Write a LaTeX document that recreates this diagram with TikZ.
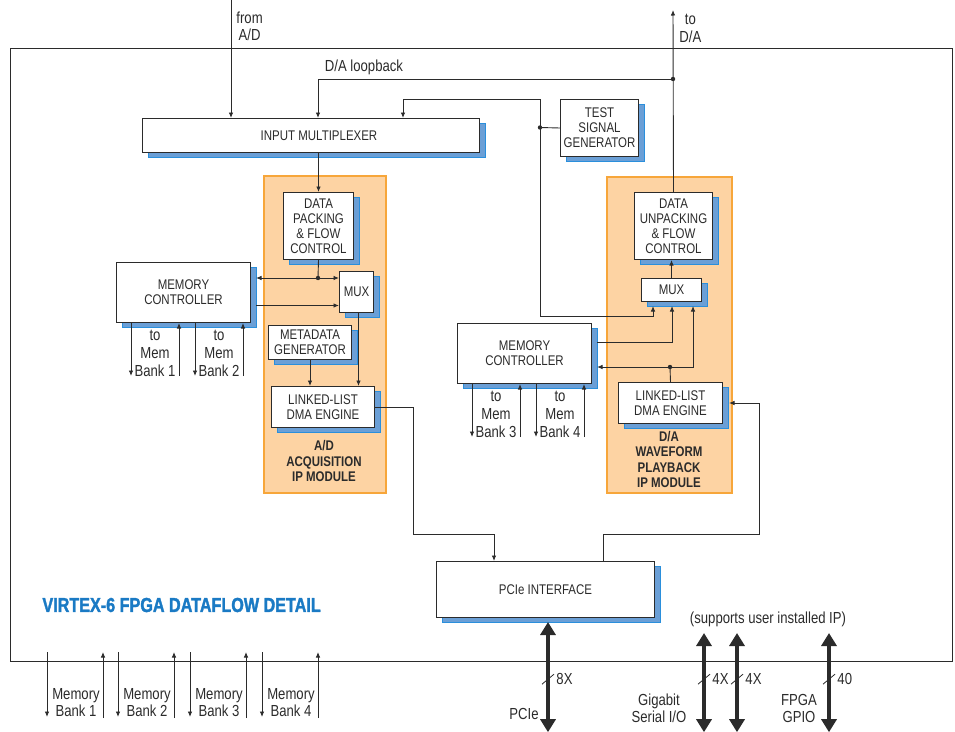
\documentclass[tikz,border=0pt]{standalone}
\usepackage{fontspec}
\setmainfont{Liberation Sans}[FakeStretch=0.82]
\newfontfamily\titlefont{Liberation Sans}[FakeStretch=0.8,FakeBold=1.6]
\usetikzlibrary{positioning,shadows,arrows.meta}
\definecolor{ink}{HTML}{2B2B2B}
\definecolor{shadowblue}{HTML}{6B9FD6}
\definecolor{shadowedge}{HTML}{2A8FDC}
\definecolor{modfill}{HTML}{FDD3A3}
\definecolor{modline}{HTML}{F7A63A}
\definecolor{titleblue}{HTML}{1A7AC4}
\tikzset{
  box/.style={draw=ink,fill=white,line width=1pt,anchor=north west,align=center,
    font=\fontsize{14}{15}\selectfont,
    general shadow={fill=shadowblue,draw=shadowedge,line width=0.6pt,shadow xshift=6pt,shadow yshift=-5pt}},
  module/.style={draw=modline,fill=modfill,line width=1.6pt,anchor=north west},
  modlabel/.style={align=center,font=\bfseries\fontsize{14}{15.3}\selectfont},
  lbl/.style={align=center,font=\fontsize{16}{17.5}\selectfont},
  bus/.style={line width=3.6pt,{Triangle[length=13pt,width=15pt]}-{Triangle[length=13pt,width=15pt]}}
}
\begin{document}
\begin{tikzpicture}[x=1pt,y=-1pt,line width=0.9pt,color=ink,every node/.style={inner sep=1pt}]
\tikzstyle{arrow}=[draw,-{Latex[length=5.5pt,width=4.5pt]}]
\useasboundingbox (0,0) rectangle (955,731);

% FPGA outline
\node[draw,line width=1.2pt,anchor=north west,minimum width=942,minimum height=613] (fpga) at (10,48) {};

% IP modules
\node[module,minimum width=122,minimum height=317] (admod) at (263,175) {};
\node[modlabel] (admodtxt) at (324,461) {A/D\\ACQUISITION\\IP MODULE};
\node[module,minimum width=125,minimum height=316] (damod) at (606,176) {};
\node[modlabel] (damodtxt) at (669,459.5) {D/A\\WAVEFORM\\PLAYBACK\\IP MODULE};

% blocks
\node[box,minimum width=337,minimum height=34] (inmux) at (142,118) {\hspace*{16pt}INPUT MULTIPLEXER};
\node[box,minimum width=78,minimum height=57] (tsg) at (560,99) {TEST\\SIGNAL\\GENERATOR};
\node[box,minimum width=70,minimum height=67] (dpack) at (283,192) {DATA\\PACKING\\\& FLOW\\CONTROL};
\node[box,minimum width=34,minimum height=41] (admux) at (339,271) {MUX};
\node[box,minimum width=134,minimum height=60] (meml) at (116,262) {MEMORY\\CONTROLLER};
\node[box,minimum width=83,minimum height=34] (meta) at (268,325) {METADATA\\GENERATOR};
\node[box,minimum width=103,minimum height=41] (adll) at (271,386) {LINKED-LIST\\DMA ENGINE};
\node[box,minimum width=78,minimum height=67] (dunpack) at (634,192) {DATA\\UNPACKING\\\& FLOW\\CONTROL};
\node[box,minimum width=60,minimum height=23] (damux) at (641,278) {MUX};
\node[box,minimum width=134,minimum height=60] (memr) at (457,323) {MEMORY\\CONTROLLER};
\node[box,minimum width=104,minimum height=41] (dall) at (618,382) {LINKED-LIST\\DMA ENGINE};
\node[box,minimum width=218,minimum height=56] (pcie) at (436,561) {PCIe INTERFACE};

% top connections
\coordinate (fromad) at (231,0);
\draw[arrow] (fromad) -- (fromad |- inmux.north);
\node[lbl,anchor=west] (fromadtxt) at (235,26.5) {from\\A/D};
\coordinate (toda) at (673,10);
\coordinate (loopdot) at (673,79);
\coordinate (loopin) at (318,118);
\draw[arrow] (dunpack.north) -- (toda);
\node[lbl,anchor=west] (todatxt) at (678,28.5) {to\\D/A};
\draw[arrow] (loopdot) -| (loopin);
\fill (loopdot) circle (2.2);
\node[lbl] (looptxt) at (364,67) {D/A loopback};

% test signal generator
\coordinate (tsgtap) at (540,127.5);
\coordinate (tsgbend) at (540,99);
\coordinate (tsgin) at (403,118);
\coordinate (tsglow) at (540,316);
\coordinate (damuxa) at (653,306);
\coordinate (damuxb) at (672,306);
\coordinate (damuxc) at (693,306);
\draw (tsg.west) -- (tsgtap);
\draw[arrow] (tsgtap) -- (tsgbend) -| (tsgin);
\draw[arrow] (tsgtap) -- (tsglow) -| (damuxa);
\fill (tsgtap) circle (2.2);

% A/D side
\coordinate (dpdot) at (318,278);
\coordinate (memlin) at (256,278);
\coordinate (memlout) at (256,305.5);
\draw[arrow] (inmux.south -| dpack.north) -- (dpack.north);
\draw (dpack.south) -- (dpdot);
\draw[arrow] (dpdot) -- (admux.west |- dpdot);
\draw[arrow] (dpdot) -- (memlin);
\fill (dpdot) circle (2.2);
\draw[arrow] (memlout) -- (admux.west |- memlout);
\draw[arrow] ([xshift=2]admux.south) -- ([xshift=2]admux.south |- adll.north);
\draw[arrow] (meta.south) -- (meta.south |- adll.north);
\coordinate (adbend) at (413,534);
\coordinate (pciein) at (494,561);
\draw[arrow] (adll.east) -| (adbend) -| (pciein);

% D/A side
\coordinate (pcieout) at (603,561);
\coordinate (dabend) at (759,534);
\draw[arrow] (pcieout) |- (dabend) |- ([xshift=6]dall.east);
\coordinate (dadot) at (670,367);
\coordinate (memrin) at (597,367);
\coordinate (memrout) at (597,342);
\draw (dall.north) -- (dadot);
\draw[arrow] (dadot) -- (memrin);
\draw[arrow] (dadot) -| (damuxc);
\fill (dadot) circle (2.2);
\draw[arrow] (memrout) -| (damuxb);
\draw[arrow] (damux.north) -- (damux.north |- dunpack.south);

% memory bank ports of the controllers
\foreach \m/\a/\b in {meml/1/2,memr/3/4}{
  \foreach \dx in {15,79}
    \draw[arrow] ([xshift=\dx]\m.south west) -- ++(0,53);
  \foreach \dx in {63,127}
    \draw[arrow] ([xshift=\dx,yshift=-53]\m.south west) -- ([xshift=\dx]\m.south west);
  \node[lbl,font=\fontsize{16}{18}\selectfont] (\m-bank\a) at ([xshift=39,yshift=-30]\m.south west) {to\\Mem\\Bank \a};
  \node[lbl,font=\fontsize{16}{18}\selectfont] (\m-bank\b) at ([xshift=103,yshift=-30]\m.south west) {to\\Mem\\Bank \b};
}

\node[anchor=west,text=titleblue,font=\titlefont\bfseries\fontsize{20.2}{21}\selectfont] (title) at (41,605) {VIRTEX-6 FPGA DATAFLOW DETAIL};

% external memory banks
\foreach \i/\x in {1/47,2/118,3/190,4/262}{
  \draw[arrow] (\x,652) -- (\x,717);
  \draw[arrow] (\x+56,718) -- (\x+56,652);
  \node[lbl,font=\fontsize{16}{17}\selectfont] (bank\i) at (\x+29,703) {Memory\\Bank \i};
}

% external I/O
\coordinate (pcieio) at (548,622);
\coordinate (gsioa) at (704,633);
\coordinate (gsiob) at (737,633);
\coordinate (gpio) at (829,633);
\foreach \p/\w in {pcieio/8X,gsioa/4X,gsiob/4X,gpio/40}{
  \draw[bus] (\p) -- (\p |- fpga.south) -- ++(0,70);
  \draw[line width=0.8pt] ([xshift=-6,yshift=-22]\p |- fpga.south) -- ([xshift=6,yshift=-12]\p |- fpga.south);
  \node[lbl,anchor=west] (\p-w) at ([xshift=7,yshift=-17]\p |- fpga.south) {\w};
}
\node[lbl] (pcietxt) at (524,714) {PCIe};
\node[lbl] (gsiotxt) at (659,708.5) {Gigabit\\Serial I/O};
\node[lbl] (gpiotxt) at (799,708.5) {FPGA\\GPIO};
\node[lbl] (usertxt) at (768,619) {(supports user installed IP)};
\end{tikzpicture}
\end{document}
